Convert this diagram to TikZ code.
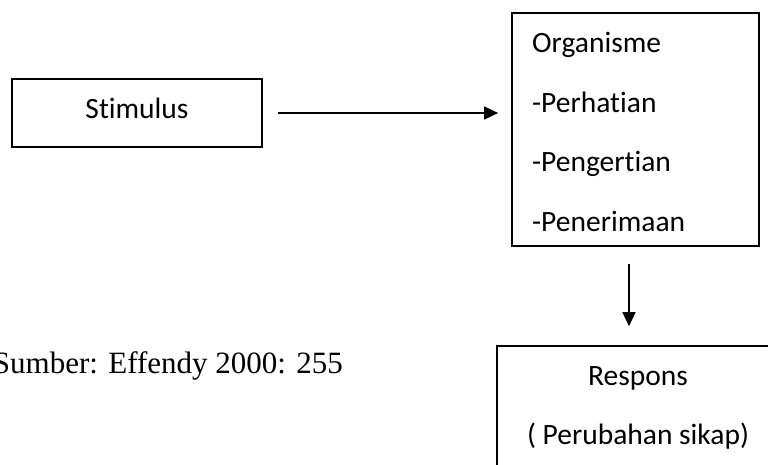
\documentclass[tikz,border=0pt]{standalone}
\usepackage{fontspec}
\setmainfont{Carlito}[Ligatures=NoCommon]
\newfontfamily\timesfont{Liberation Serif}
\usetikzlibrary{arrows.meta}
\begin{document}
\begin{tikzpicture}[x=1pt,y=-1pt,
    box/.style={draw,line width=1.7pt,inner sep=0pt},
    txt/.style={inner sep=0pt,font=\fontsize{29.5}{35}\selectfont},
    arr/.style={-{Triangle[length=14pt,width=13pt]},line width=1.6pt}]
      \useasboundingbox (0,0) rectangle (768,464);
      \clip (0,0) rectangle (768,464);
      \draw
        (137,113) node[box,minimum width=250pt,minimum height=68pt] (stim){}
        (635.5,129.5) node[box,minimum width=247pt,minimum height=233pt] (org){}
        (638,418) node[box,minimum width=282pt,minimum height=144pt] (resp){};
      \draw
        (137,118) node[txt,anchor=base] (stimtxt){Stimulus}
        (532,52) node[txt,anchor=base west] (org1){Organisme}
        (532,112) node[txt,anchor=base west] (org2){-Perhatian}
        (532,171) node[txt,anchor=base west] (org3){-Pengertian}
        (532,231) node[txt,anchor=base west] (org4){-Penerimaan}
        (638,385) node[txt,anchor=base] (resp1){Respons}
        (638,444) node[txt,anchor=base] (resp2){( Perubahan sikap)}
        (343,373) node[inner sep=0pt,anchor=base east,
          font=\timesfont\fontsize{31}{36}\selectfont] (src){Sumber: Effendy 2000: 255};
      \begin{scope}[arr]
        \draw[shorten <=15pt,shorten >=13pt] (stim.east) to (stim.east -| org.west);
        \draw[shorten <=17pt,shorten >=19pt] ([xshift=-6.5pt]org.south) to ([xshift=-6.5pt]org.south |- resp.north);
      \end{scope}
    \end{tikzpicture}
\end{document}
